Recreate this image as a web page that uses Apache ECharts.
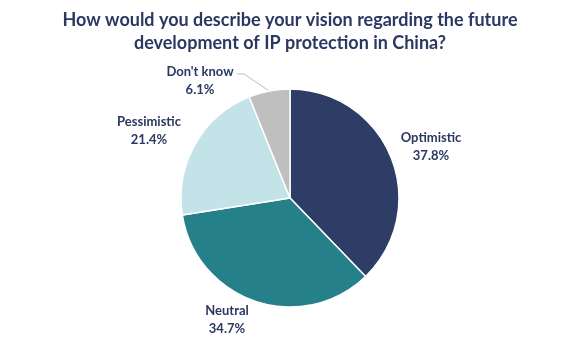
<!DOCTYPE html>
<html>
<head>
<meta charset="utf-8">
<script src="https://cdn.jsdelivr.net/npm/echarts@6/dist/echarts.min.js"></script>
<style>
  html, body { margin: 0; padding: 0; background: #fff; }
  #chart { width: 580px; height: 338px; }
</style>
</head>
<body>
<div id="chart"></div>
<script>
// Survey answers and their shares (%)
const categories = ['Optimistic', 'Neutral', 'Pessimistic', "Don't know"];
const shares = [37.8, 34.7, 21.4, 6.1];
const sliceColors = ['#2E3D66', '#268089', '#C3E3E8', '#BFBFBF'];

// Where each label block sits (centre of text, in px)
const labelSpots = [[431, 147], [227, 320], [149, 131], [200, 81]];

const chart = echarts.init(document.getElementById('chart'));
const textColor = '#2B3861';

chart.setOption({
  animation: false,
  title: {
    text: 'How would you describe your vision regarding the future\ndevelopment of IP protection in China?',
    left: 'center',
    top: 4,
    textStyle: {
      fontFamily: 'Lato',
      fontWeight: 'bold',
      fontSize: 18,
      lineHeight: 23,
      color: textColor
    }
  },
  series: [{
    type: 'pie',
    center: [290, 198],
    radius: [0, 109],
    startAngle: 90,
    clockwise: true,
    itemStyle: { borderColor: '#ffffff', borderWidth: 1.5 },
    label: {
      show: true,
      formatter: p => p.name + '\n' + p.value.toFixed(1) + '%',
      fontFamily: 'Lato',
      fontWeight: 'bold',
      fontSize: 13,
      lineHeight: 18,
      color: textColor,
      align: 'center'
    },
    labelLine: { show: false },
    labelLayout: function (params) {
      const spot = labelSpots[params.dataIndex];
      const out = { x: spot[0], y: spot[1], align: 'center', verticalAlign: 'middle' };
      if (params.dataIndex === 3 && params.labelLinePoints) {
        // leader: from the slice edge, kink, then run flat into the first text line
        const start = params.labelLinePoints[0];
        const textRight = spot[0] + 37;
        const textTop = spot[1] - 7;
        out.labelLinePoints = [start, [textRight + 7, textTop], [textRight, textTop]];
      }
      return out;
    },
    data: categories.map((name, i) => {
      const item = { name: name, value: shares[i], itemStyle: { color: sliceColors[i] } };
      if (i === 3) {
        item.labelLine = { show: true, lineStyle: { color: '#BFBFBF', width: 1 } };
      }
      return item;
    })
  }]
});
</script>
</body>
</html>
